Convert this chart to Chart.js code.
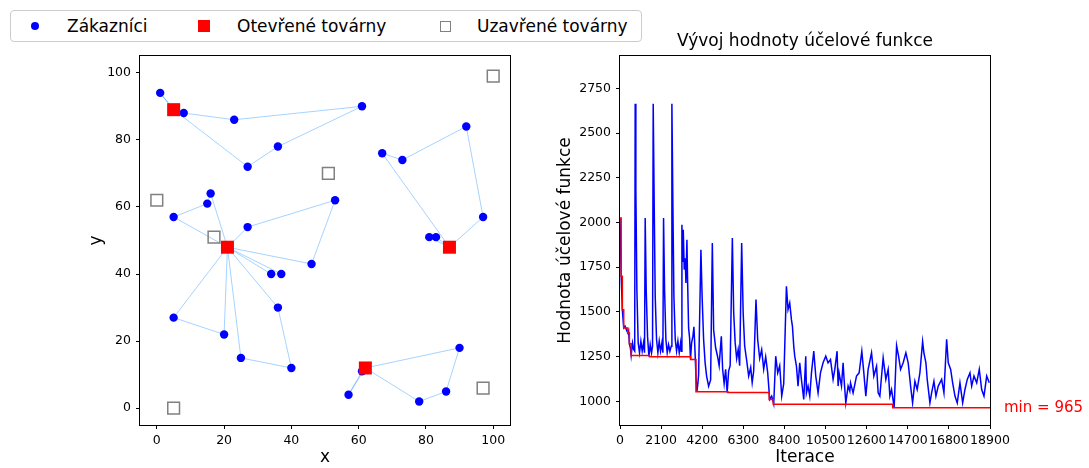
<!DOCTYPE html>
<html>
<head>
<meta charset="utf-8">
<script src="https://cdn.jsdelivr.net/npm/chart.js@4.4.1/dist/chart.umd.min.js"></script>
<style>
  body { margin: 0; background: #fff; width: 1089px; height: 468px; position: relative; overflow: hidden;
         font-family: "DejaVu Sans", sans-serif; }
  canvas { position: absolute; top: 0; }
  #chart-map { left: 0; }
  #chart-cost { left: 545px; }
  .lg-box { position: absolute; left: 10px; top: 10px; width: 630px; height: 30px;
            border: 1px solid #cccccc; border-radius: 4px; background: #fff; }
  .lg-mark, .lg-text { position: absolute; }
  .lg-text { top: 15px; line-height: 22px; font-size: 17px; color: #000; white-space: nowrap; }
</style>
</head>
<body>
<div class="lg-box"></div>
<div class="lg-mark" style="left:31px;top:22px;width:8.4px;height:8.4px;border-radius:50%;background:#0000ff"></div>
<div class="lg-text" style="left:67px">Zákazníci</div>
<div class="lg-mark" style="left:198px;top:20px;width:12px;height:12px;background:#ff0000"></div>
<div class="lg-text" style="left:237px">Otevřené továrny</div>
<div class="lg-mark" style="left:440px;top:20.5px;width:11px;height:11px;box-sizing:border-box;border:1.5px solid #808080"></div>
<div class="lg-text" style="left:477px">Uzavřené továrny</div>

<canvas id="chart-map" width="545" height="468"></canvas>
<canvas id="chart-cost" width="544" height="468"></canvas>

<script>
// --- left plot: customers, factories and routes ---
const CUSTOMER_X = [1, 8, 23, 36, 27, 16, 15, 5, 27, 61, 67, 73, 92, 97, 81, 83, 53, 46, 34, 37, 36, 5, 20, 25, 40, 90, 61, 57, 78, 86];
const CUSTOMER_Y = [94, 88, 86, 78, 72, 64, 61, 57, 54, 90, 76, 74, 84, 57, 51, 51, 62, 43, 40, 40, 30, 27, 22, 15, 12, 18, 11, 4, 2, 5];
const OPEN_X = [5, 21, 87, 62];
const OPEN_Y = [89, 48, 48, 12];
const CLOSED_X = [0, 17, 51, 100, 5, 97];
const CLOSED_Y = [62, 51, 70, 99, 0, 6];
// each route leaves an open factory, visits customers (by index) and returns
const ROUTE_FACTORY = [0, 0, 1, 1, 1, 1, 1, 2, 2, 3, 3];
const ROUTE_STOPS = [[0], [1, 2, 9, 3, 4], [7, 6, 5], [8, 16, 17], [18, 19], [20, 24, 23], [21, 22],
                     [10, 11, 12, 13], [15, 14], [25, 29, 28], [26, 27]];
const MAP_TICKS = [0, 20, 40, 60, 80, 100];

// --- right plot: objective value over iterations ---
const CURRENT_IT = [0, 60, 120, 190, 260, 330, 400, 440, 480, 530, 570, 640, 700, 750, 776, 810, 861, 929, 997, 1066, 1134, 1202, 1253,
  1287, 1338, 1407, 1475, 1543, 1611, 1662, 1696, 1748, 1799, 1867, 1935, 2003, 2071, 2140, 2191, 2225, 2276, 2344, 2412, 2481,
  2549, 2617, 2651, 2702, 2753, 2822, 2890, 2958, 3026, 3094, 3128, 3163, 3197, 3231, 3282, 3333, 3367, 3418, 3452, 3504, 3555,
  3600, 3657, 3725, 3776, 3828, 3879, 3930, 3981, 4015, 4133, 4194, 4271, 4348, 4424, 4527, 4629, 4716, 4783, 4885, 4987, 5064,
  5176, 5243, 5320, 5396, 5473, 5550, 5627, 5739, 5806, 5882, 5959, 6036, 6112, 6215, 6291, 6368, 6470, 6573, 6675, 6752, 6829,
  6946, 7033, 7135, 7238, 7340, 7442, 7545, 7647, 7749, 7852, 7954, 8056, 8158, 8261, 8363, 8501, 8583, 8670, 8757, 8808, 8875,
  8926, 9013, 9095, 9181, 9268, 9386, 9488, 9524, 9606, 9693, 9780, 9898, 10000, 10118, 10240, 10373, 10511, 10629, 10752, 10885, 10972,
  11089, 11141, 11191, 11314, 11396, 11447, 11534, 11652, 11739, 11775, 11907, 12081, 12215, 12352, 12455, 12557, 12675, 12849, 12967, 13105,
  13187, 13273, 13442, 13580, 13698, 13785, 13872, 14005, 14128, 14230, 14332, 14465, 14603, 14721, 14844, 14946, 15064, 15181, 15319, 15458, 15524,
  15626, 15693, 15831, 15918, 16036, 16138, 16256, 16430, 16547, 16685, 16768, 16890, 16992, 17110, 17227, 17365, 17504, 17621,
  17739, 17877, 17964, 18082, 18220, 18352, 18475, 18593, 18731, 18864];
const CURRENT_VAL = [2025, 1700, 1513, 1411, 1420, 1400, 1383, 1395, 1322, 1300, 1257, 1327, 1290, 1281, 2663, 2183, 1625, 1327, 1272, 1337, 1281, 1327, 1272,
  2025, 1625, 1365, 1251, 1318, 1272, 1309, 2663, 2090, 1588, 1346, 1272, 1337, 1281, 1327, 1272, 2025, 1625, 1346, 1272, 1318,
  1281, 1309, 2663, 2090, 1588, 1346, 1281, 1337, 1272, 1327, 1281, 1988, 1780, 1960, 1737, 1800, 1662, 1904, 1680, 1411, 1355,
  1236, 1327, 1365, 1417, 1290, 1141, 1056, 1104, 1150, 1848, 1588, 1346, 1216, 1142, 1085, 1120, 1886, 1400, 1300, 1250, 1200,
  1364, 1180, 1100, 1180, 1051, 1170, 1200, 1914, 1500, 1330, 1240, 1290, 1200, 1886, 1495, 1310, 1230, 1142, 1190, 1105, 1170,
  1569, 1346, 1240, 1290, 1180, 1250, 1160, 1012, 1030, 986, 1253, 1160, 1200, 1030, 1100, 1643, 1513, 1550, 1457, 1420, 1309,
  1253, 1197, 1086, 1216, 1123, 1011, 1253, 1048, 1086, 1030, 1160, 1281, 1142, 1048, 1160, 1216, 1253, 1216, 1235, 1123, 1179,
  1281, 1086, 1160, 1086, 1216, 1123, 992, 1086, 1058, 1104, 1048, 1142, 1160, 1281, 1160, 1030, 1179, 1272, 1142, 1197,
  1048, 1030, 1244, 1123, 1179, 1030, 1067, 966, 1312, 1253, 1179, 1216, 1272, 1216, 1086, 992, 1113, 1067, 1160, 1335, 1272,
  1216, 1123, 992, 1048, 1113, 1030, 1086, 1123, 1048, 1348, 1216, 1179, 1104, 1030, 992, 1104, 992, 1067,
  1123, 1160, 1086, 1142, 1104, 1179, 1067, 1030, 1142, 1104];
const BEST_IT = [0, 60, 120, 190, 400, 480, 570, 1510, 3610, 3880, 5510, 7620, 7830, 13930, 18900];
const BEST_VAL = [2025, 1700, 1513, 1411, 1383, 1322, 1257, 1250, 1234, 1054, 1050, 1011, 985, 965, 965];
const ITER_TICKS = [0, 2100, 4200, 6300, 8400, 10500, 12600, 14700, 16800, 18900];
const COST_TICKS = [1000, 1250, 1500, 1750, 2000, 2250, 2500, 2750];

const FONT_FAMILY = "'DejaVu Sans', sans-serif";
const TICK_FONT = { family: FONT_FAMILY, size: 12.5 };
const LABEL_FONT = { family: FONT_FAMILY, size: 17 };

function fixedTicks(values) {
  return (scale) => { scale.ticks = values.map((v) => ({ value: v })); };
}

function axis(min, max, ticks, title, titlePad, size, horizontal) {
  return {
    type: "linear",
    min: min,
    max: max,
    border: { display: false },
    grid: { drawOnChartArea: false, drawTicks: true, tickLength: 4, color: "#000", lineWidth: 1 },
    ticks: { font: TICK_FONT, color: "#000", padding: horizontal ? 4 : 5, maxRotation: 0, minRotation: 0,
             autoSkip: false, callback: (v) => String(v) },
    title: { display: true, text: title, font: LABEL_FONT, color: "#000", padding: titlePad },
    afterBuildTicks: fixedTicks(ticks),
    afterFit: (s) => { if (horizontal) s.height = size; else s.width = size; }
  };
}

const framePlugin = {
  id: "frame",
  afterDraw(chart) {
    const { ctx, chartArea: a } = chart;
    ctx.save();
    ctx.strokeStyle = "#000";
    ctx.lineWidth = 1;
    ctx.strokeRect(a.left - 0.5, a.top - 0.5, a.right - a.left + 1, a.bottom - a.top + 1);
    ctx.restore();
  }
};

// left chart
const pt = (x, y) => ({ x: x, y: y });
const customers = CUSTOMER_X.map((x, i) => pt(x, CUSTOMER_Y[i]));
const openF = OPEN_X.map((x, i) => pt(x, OPEN_Y[i]));
const closedF = CLOSED_X.map((x, i) => pt(x, CLOSED_Y[i]));
const routeSets = ROUTE_STOPS.map((stops, r) => {
  const f = openF[ROUTE_FACTORY[r]];
  return {
    data: [f, ...stops.map((c) => customers[c]), f],
    showLine: true,
    borderColor: "rgba(30, 144, 255, 0.4)",
    borderWidth: 1,
    pointRadius: 0,
    fill: false
  };
});

new Chart(document.getElementById("chart-map"), {
  type: "scatter",
  data: {
    datasets: [
      { label: "Otevřené továrny", data: openF, pointStyle: "rect", pointRadius: 9.2, backgroundColor: "#ff0000", borderWidth: 0 },
      { label: "Zákazníci", data: customers, pointStyle: "circle", pointRadius: 4.2, backgroundColor: "#0000ff", borderWidth: 0 },
      { label: "Uzavřené továrny", data: closedF, pointStyle: "rect", pointRadius: 8.3, backgroundColor: "rgba(0,0,0,0)",
        borderColor: "#808080", borderWidth: 1.5 },
      ...routeSets
    ]
  },
  options: {
    responsive: false,
    animation: false,
    devicePixelRatio: 1,
    events: [],
    layout: { padding: { left: 82, right: 35, top: 56, bottom: 0 } },
    plugins: { legend: { display: false }, tooltip: { enabled: false } },
    scales: {
      x: axis(-5, 105, MAP_TICKS, "x", { top: 0, bottom: 0 }, 43, true),
      y: axis(-5, 105, MAP_TICKS, "y", { top: 4, bottom: 0 }, 58, false)
    }
  },
  plugins: [framePlugin]
});

// right chart
const costTitle = {
  id: "costTitle",
  afterDraw(chart) {
    const { ctx, chartArea: a } = chart;
    ctx.save();
    ctx.fillStyle = "#000";
    ctx.font = "17px " + FONT_FAMILY;
    ctx.textAlign = "center";
    ctx.textBaseline = "middle";
    ctx.fillText("Vývoj hodnoty účelové funkce", (a.left + a.right) / 2, 42);
    const best = BEST_VAL[BEST_VAL.length - 1];
    ctx.fillStyle = "#ff0000";
    ctx.font = "15px " + FONT_FAMILY;
    ctx.textAlign = "left";
    ctx.fillText("min = " + best, a.right + 14, chart.scales.y.getPixelForValue(best));
    ctx.restore();
  }
};

new Chart(document.getElementById("chart-cost"), {
  type: "line",
  data: {
    datasets: [
      // stepped "before": each value starts at its own iteration (like a post-step plot)
      { label: "best", data: BEST_IT.map((x, i) => pt(x, BEST_VAL[i])), stepped: "before",
        borderColor: "#ff0000", borderWidth: 1.5, pointRadius: 0, fill: false },
      { label: "current", data: CURRENT_IT.map((x, i) => pt(x, CURRENT_VAL[i])),
        borderColor: "#0000ff", borderWidth: 1.5, pointRadius: 0, fill: false, tension: 0 }
    ]
  },
  options: {
    responsive: false,
    animation: false,
    devicePixelRatio: 1,
    events: [],
    layout: { padding: { left: 6, right: 99, top: 56, bottom: 0 } },
    plugins: { legend: { display: false }, tooltip: { enabled: false } },
    scales: {
      x: axis(0, 18900, ITER_TICKS, "Iterace", { top: 0, bottom: 0 }, 43, true),
      y: axis(868.5, 2930.4, COST_TICKS, "Hodnota účelové funkce", { top: 4, bottom: 0 }, 69, false)
    }
  },
  plugins: [framePlugin, costTitle]
});
</script>
</body>
</html>
